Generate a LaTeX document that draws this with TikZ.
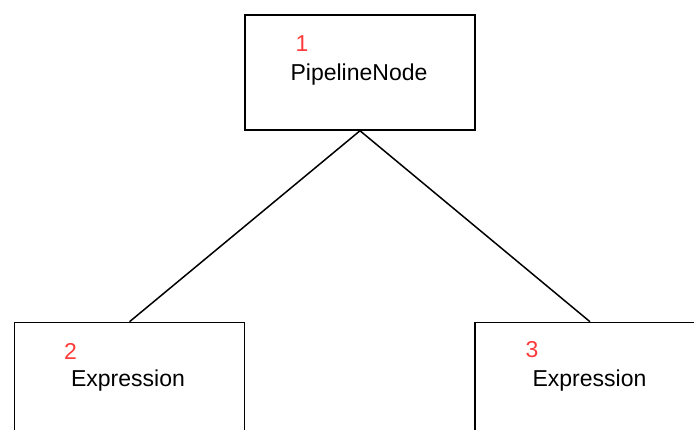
\documentclass[tikz,border=0pt]{standalone}
\usepackage{fontspec}
\setmainfont{Liberation Sans}
\definecolor{numred}{HTML}{FF3B3B}
\begin{document}
\begin{tikzpicture}[x=1pt,y=-1pt,
  box/.style={draw=black,line width=1.5pt,minimum width=230pt,minimum height=115pt,
    inner sep=0pt},
  label text/.style={inner sep=0pt,font=\fontsize{23}{27}\selectfont},
  num/.style={text=numred,inner sep=0pt,font=\fontsize{23}{27}\selectfont},
  link/.style={line width=1.5pt}]
\useasboundingbox (0,0) rectangle (694,430);
\clip (0,0) rectangle (694,430);
% tree nodes
\node[box] (root) at (360,72.5) {};
\node[box] (left) at (129.5,380) {};
\node[box] (right) at (590,380) {};
% captions
\node[label text,anchor=base] (t1) at ([shift={(-1,8)}]root.center) {PipelineNode};
\node[label text,anchor=base] (t2) at ([shift={(-1.5,7)}]left.center) {Expression};
\node[label text,anchor=base] (t3) at ([shift={(-0.5,7)}]right.center) {Expression};
% index numbers
\node[num] (n1) at ([shift={(-58,-29)}]root.center) {1};
\node[num] (n2) at ([shift={(-59,-29)}]left.center) {2};
\node[num] (n3) at ([shift={(-58,-30)}]right.center) {3};
% edges
\draw[link] (root.south) -- (left.north);
\draw[link] (root.south) -- (right.north);
\end{tikzpicture}
\end{document}
